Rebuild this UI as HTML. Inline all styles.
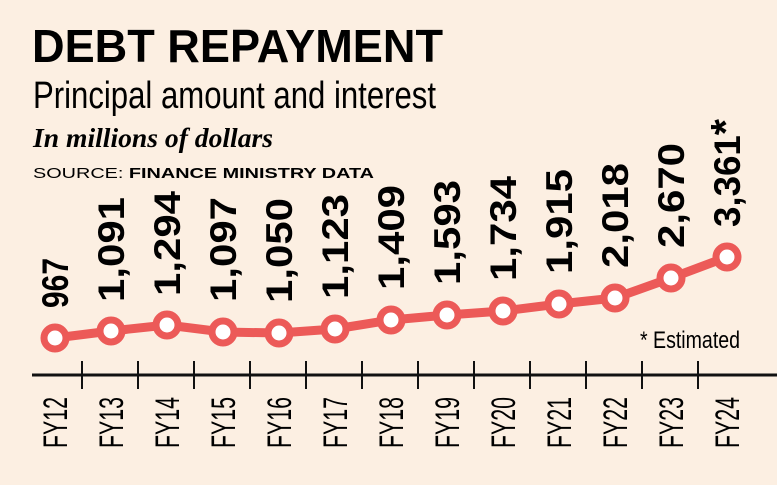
<!DOCTYPE html>
<html><head><style>
body{margin:0;background:#fcefe2;}
svg{display:block}
.n{font-family:"Liberation Sans Narrow","Liberation Sans",sans-serif;}
</style></head><body>
<svg width="777" height="485" viewBox="0 0 777 485" xmlns="http://www.w3.org/2000/svg">
<rect width="777" height="485" fill="#fcefe2"/>
<text x="32" y="62" font-family="Liberation Sans" font-weight="bold" font-size="46" textLength="411" lengthAdjust="spacingAndGlyphs">DEBT REPAYMENT</text>
<text x="33" y="108" class="n" font-size="38" textLength="403" lengthAdjust="spacingAndGlyphs">Principal amount and interest</text>
<text x="33" y="147" font-family="Liberation Serif" font-style="italic" font-weight="bold" font-size="27" textLength="240" lengthAdjust="spacingAndGlyphs">In millions of dollars</text>
<text x="33" y="178" font-family="Liberation Sans" font-size="15" textLength="341" lengthAdjust="spacingAndGlyphs">SOURCE: <tspan font-weight="bold">FINANCE MINISTRY DATA</tspan></text>
<line x1="32" y1="375" x2="777" y2="375" stroke="#111" stroke-width="3"/>
<g stroke="#111" stroke-width="2">
<line x1="82" y1="361" x2="82" y2="389"/><line x1="138" y1="361" x2="138" y2="389"/><line x1="194" y1="361" x2="194" y2="389"/><line x1="250" y1="361" x2="250" y2="389"/><line x1="306" y1="361" x2="306" y2="389"/><line x1="362" y1="361" x2="362" y2="389"/><line x1="418" y1="361" x2="418" y2="389"/><line x1="474" y1="361" x2="474" y2="389"/><line x1="530" y1="361" x2="530" y2="389"/><line x1="586" y1="361" x2="586" y2="389"/><line x1="642" y1="361" x2="642" y2="389"/><line x1="698" y1="361" x2="698" y2="389"/>
</g>
<polyline fill="none" stroke="#ec5a58" stroke-width="9" stroke-linejoin="round" points="55,338 111,331 167,325 223,332 279,333 335,329 391,320 447,315 503,311 559,304 615,298 671,278 727,257"/>
<g fill="#fff" stroke="#ec5a58" stroke-width="7">
<circle cx="55" cy="338" r="11"/><circle cx="111" cy="331" r="11"/><circle cx="167" cy="325" r="11"/><circle cx="223" cy="332" r="11"/><circle cx="279" cy="333" r="11"/><circle cx="335" cy="329" r="11"/><circle cx="391" cy="320" r="11"/><circle cx="447" cy="315" r="11"/><circle cx="503" cy="311" r="11"/><circle cx="559" cy="304" r="11"/><circle cx="615" cy="298" r="11"/><circle cx="671" cy="278" r="11"/><circle cx="727" cy="257" r="11"/>
</g>
<g class="n" font-weight="bold" font-size="37">
<text transform="translate(68,308) rotate(-90)" textLength="50" lengthAdjust="spacingAndGlyphs">967</text>
<text transform="translate(124,302) rotate(-90)" textLength="105" lengthAdjust="spacingAndGlyphs">1,091</text>
<text transform="translate(180,296) rotate(-90)" textLength="105" lengthAdjust="spacingAndGlyphs">1,294</text>
<text transform="translate(236,302) rotate(-90)" textLength="105" lengthAdjust="spacingAndGlyphs">1,097</text>
<text transform="translate(292,303) rotate(-90)" textLength="105" lengthAdjust="spacingAndGlyphs">1,050</text>
<text transform="translate(348,299) rotate(-90)" textLength="105" lengthAdjust="spacingAndGlyphs">1,123</text>
<text transform="translate(404,290) rotate(-90)" textLength="105" lengthAdjust="spacingAndGlyphs">1,409</text>
<text transform="translate(460,285) rotate(-90)" textLength="105" lengthAdjust="spacingAndGlyphs">1,593</text>
<text transform="translate(516,281) rotate(-90)" textLength="105" lengthAdjust="spacingAndGlyphs">1,734</text>
<text transform="translate(572,274) rotate(-90)" textLength="105" lengthAdjust="spacingAndGlyphs">1,915</text>
<text transform="translate(628,268) rotate(-90)" textLength="105" lengthAdjust="spacingAndGlyphs">2,018</text>
<text transform="translate(684,248) rotate(-90)" textLength="105" lengthAdjust="spacingAndGlyphs">2,670</text>
<text transform="translate(740,227) rotate(-90)" textLength="108" lengthAdjust="spacingAndGlyphs">3,361<tspan font-size="42">*</tspan></text>
</g>
<g class="n" font-size="34">
<text transform="translate(67,448) rotate(-90)" textLength="51" lengthAdjust="spacingAndGlyphs">FY12</text>
<text transform="translate(123,448) rotate(-90)" textLength="51" lengthAdjust="spacingAndGlyphs">FY13</text>
<text transform="translate(179,448) rotate(-90)" textLength="51" lengthAdjust="spacingAndGlyphs">FY14</text>
<text transform="translate(235,448) rotate(-90)" textLength="51" lengthAdjust="spacingAndGlyphs">FY15</text>
<text transform="translate(291,448) rotate(-90)" textLength="51" lengthAdjust="spacingAndGlyphs">FY16</text>
<text transform="translate(347,448) rotate(-90)" textLength="51" lengthAdjust="spacingAndGlyphs">FY17</text>
<text transform="translate(403,448) rotate(-90)" textLength="51" lengthAdjust="spacingAndGlyphs">FY18</text>
<text transform="translate(459,448) rotate(-90)" textLength="51" lengthAdjust="spacingAndGlyphs">FY19</text>
<text transform="translate(515,448) rotate(-90)" textLength="51" lengthAdjust="spacingAndGlyphs">FY20</text>
<text transform="translate(571,448) rotate(-90)" textLength="51" lengthAdjust="spacingAndGlyphs">FY21</text>
<text transform="translate(627,448) rotate(-90)" textLength="51" lengthAdjust="spacingAndGlyphs">FY22</text>
<text transform="translate(683,448) rotate(-90)" textLength="51" lengthAdjust="spacingAndGlyphs">FY23</text>
<text transform="translate(739,448) rotate(-90)" textLength="51" lengthAdjust="spacingAndGlyphs">FY24</text>
</g>
<text x="640" y="348" class="n" font-size="24" textLength="100" lengthAdjust="spacingAndGlyphs">* Estimated</text>
</svg>
</body></html>
